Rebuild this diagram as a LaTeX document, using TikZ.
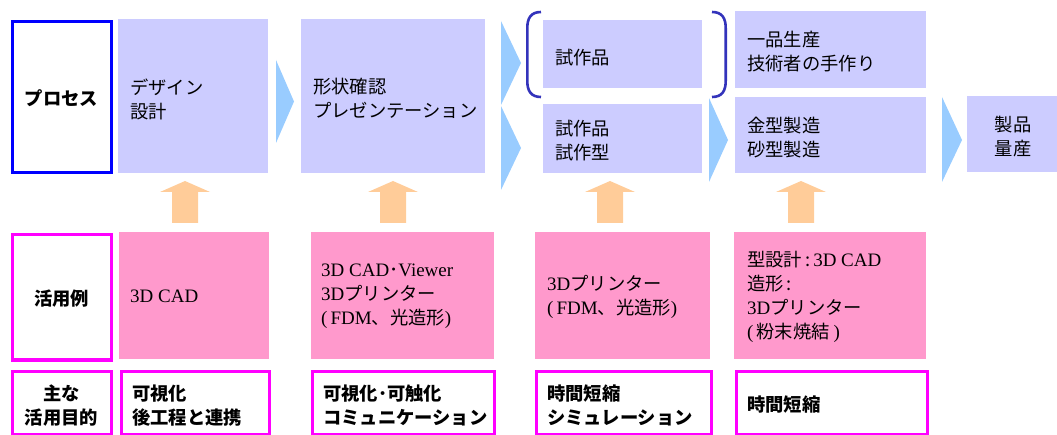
\documentclass[tikz,border=0pt]{standalone}
\usepackage{fontspec}
\setmainfont{Noto Sans CJK JP}
\newfontfamily\serfont{Liberation Serif}
\newcommand\jpfs{\fontsize{18.3}{24}\selectfont}
\newcommand\ser[1]{{\serfont\fontsize{19}{24}\selectfont #1}}
\newcommand\lpar{\ser{(}\hspace{3pt}}
\definecolor{lav}{HTML}{CCCCFF}
\definecolor{pinkfill}{HTML}{FF99CC}
\definecolor{procblue}{HTML}{0000FF}
\definecolor{mag}{HTML}{FF00FF}
\definecolor{arrblue}{HTML}{99CCFF}
\definecolor{arrorange}{HTML}{FFCC99}
\definecolor{brk}{HTML}{3333BB}
\begin{document}
\begin{tikzpicture}[x=1pt,y=-1pt,
  box/.style={anchor=north west, inner sep=0pt},
  procbox/.style={box, fill=lav},
  exbox/.style={box, fill=pinkfill},
  framebox/.style={box, draw=#1, line width=3pt, fill=white},
  txt/.style={anchor=west, inner sep=0pt, align=left, font=\jpfs, text=black},
  btxt/.style={txt, font=\jpfs\bfseries},
  ctxt/.style={inner sep=0pt, align=center, font=\jpfs\bfseries, text=black},
  bluearrow/.style={fill=arrblue},
  uparrow/.style={fill=arrorange},
  bracketline/.style={draw=brk, line width=2.6pt}
]
\useasboundingbox (0,0) rectangle (1057,435);
\clip (0,0) rectangle (1057,435);

% ---------- process row
\node[framebox=procblue, minimum width=99pt, minimum height=151pt] (lproc) at (10.5,20.5) {};
\node[ctxt] (lproct) at ([yshift=-1pt]lproc.center) {プロセス};

\node[procbox, minimum width=150pt, minimum height=154pt] (design) at (118,19) {};
\node[txt] (designt) at ([xshift=12pt,yshift=-3pt]design.west) {デザイン\\設計};

\node[procbox, minimum width=184pt, minimum height=154pt] (shape) at (301,19) {};
\node[txt] (shapet) at ([xshift=12pt,yshift=-2pt]shape.west) {形状確認\\プレゼンテーション};

\node[procbox, minimum width=159pt, minimum height=68pt] (proto) at (543,20) {};
\node[txt] (protot) at ([xshift=12pt,yshift=-3pt]proto.west) {試作品};

\node[procbox, minimum width=159pt, minimum height=69pt] (protomold) at (543,104) {};
\node[txt] (protomoldt) at ([xshift=12pt,yshift=-2pt]protomold.west) {試作品\\試作型};

\node[procbox, minimum width=191pt, minimum height=77pt] (ippin) at (735,11) {};
\node[txt] (ippint) at ([xshift=12pt,yshift=-2pt]ippin.west) {一品生産\\技術者の手作り};

\node[procbox, minimum width=191pt, minimum height=76pt] (mold) at (735,97) {};
\node[txt] (moldt) at ([xshift=12pt,yshift=-2pt]mold.west) {金型製造\\砂型製造};

\node[procbox, minimum width=90pt, minimum height=76pt] (prod) at (967,96) {};
\node[ctxt, font=\jpfs] (prodt) at ([xshift=1pt,yshift=-2pt]prod.center) {製品\\量産};

% bracket around the prototype box
\draw[bracketline] (541,12) .. controls (531,12) and (527.3,18) .. (527.3,28) -- (527.3,81) .. controls (527.3,91) and (531,97) .. (541,97);
\draw[bracketline] (712,12) .. controls (722,12) and (725.7,18) .. (725.7,28) -- (725.7,81) .. controls (725.7,91) and (722,97) .. (712,97);

% blue process arrows
\fill[bluearrow] (276,60) -- (294,101.5) -- (276,143) -- cycle;
\fill[bluearrow] (501,21) -- (521,63) -- (501,105) -- cycle;
\fill[bluearrow] (501,106) -- (521,148) -- (501,190) -- cycle;
\fill[bluearrow] (709,98) -- (728,140) -- (709,182) -- cycle;
\fill[bluearrow] (942,97) -- (962,140) -- (942,182) -- cycle;

% orange up arrows
\foreach \c in {185,393,610,801}{
  \fill[uparrow] (\c-13,223) -- (\c-13,192) -- (\c-25,192) -- (\c,181) -- (\c+25,192) -- (\c+13,192) -- (\c+13,223) -- cycle;
}

% ---------- example row
\node[framebox=mag, minimum width=99pt, minimum height=125pt] (lex) at (10.5,233.5) {};
\node[ctxt] (lext) at ([yshift=-1pt]lex.center) {活用例};

\node[exbox, minimum width=150pt, minimum height=127pt] (ex1) at (119,232) {};
\node[txt] (ex1t) at ([xshift=11pt,yshift=-1pt]ex1.west) {\ser{3D CAD}};

\node[exbox, minimum width=183pt, minimum height=127pt] (ex2) at (311,232) {};
\node[txt] (ex2t) at ([xshift=10pt,yshift=-1pt]ex2.west) {\ser{3D CAD}･\ser{Viewer}\\\ser{3D}プリンター\\\lpar\ser{FDM}、光造形\ser{)}};

\node[exbox, minimum width=175pt, minimum height=127pt] (ex3) at (535,232) {};
\node[txt] (ex3t) at ([xshift=12pt,yshift=-1pt]ex3.west) {\ser{3D}プリンター\\\lpar\ser{FDM}、光造形\ser{)}};

\node[exbox, minimum width=192pt, minimum height=127pt] (ex4) at (734,232) {};
\node[txt] (ex4t) at ([xshift=13pt,yshift=-1pt]ex4.west) {型設計\,:\,\ser{3D CAD}\\造形\,:\\\ser{3D}プリンター\\\lpar 粉末焼結\hspace{4pt}\ser{)}};

% ---------- purpose row
\node[framebox=mag, minimum width=99pt, minimum height=63pt] (lpur) at (10.5,369.5) {};
\node[ctxt] (lpurt) at ([yshift=-3pt]lpur.center) {主な\\活用目的};

\node[framebox=mag, minimum width=148pt, minimum height=63pt] (pur1) at (119.5,369.5) {};
\node[btxt] (pur1t) at ([xshift=12.5pt,yshift=-3pt]pur1.west) {可視化\\後工程と連携};

\node[framebox=mag, minimum width=182pt, minimum height=63pt] (pur2) at (310.5,369.5) {};
\node[btxt] (pur2t) at ([xshift=12.5pt,yshift=-3pt]pur2.west) {可視化･可触化\\コミュニケーション};

\node[framebox=mag, minimum width=175pt, minimum height=63pt] (pur3) at (534.5,369.5) {};
\node[btxt] (pur3t) at ([xshift=12.5pt,yshift=-3pt]pur3.west) {時間短縮\\シミュレーション};

\node[framebox=mag, minimum width=191pt, minimum height=63pt] (pur4) at (734.5,369.5) {};
\node[btxt] (pur4t) at ([xshift=12.5pt,yshift=-2pt]pur4.west) {時間短縮};
\end{tikzpicture}
\end{document}
